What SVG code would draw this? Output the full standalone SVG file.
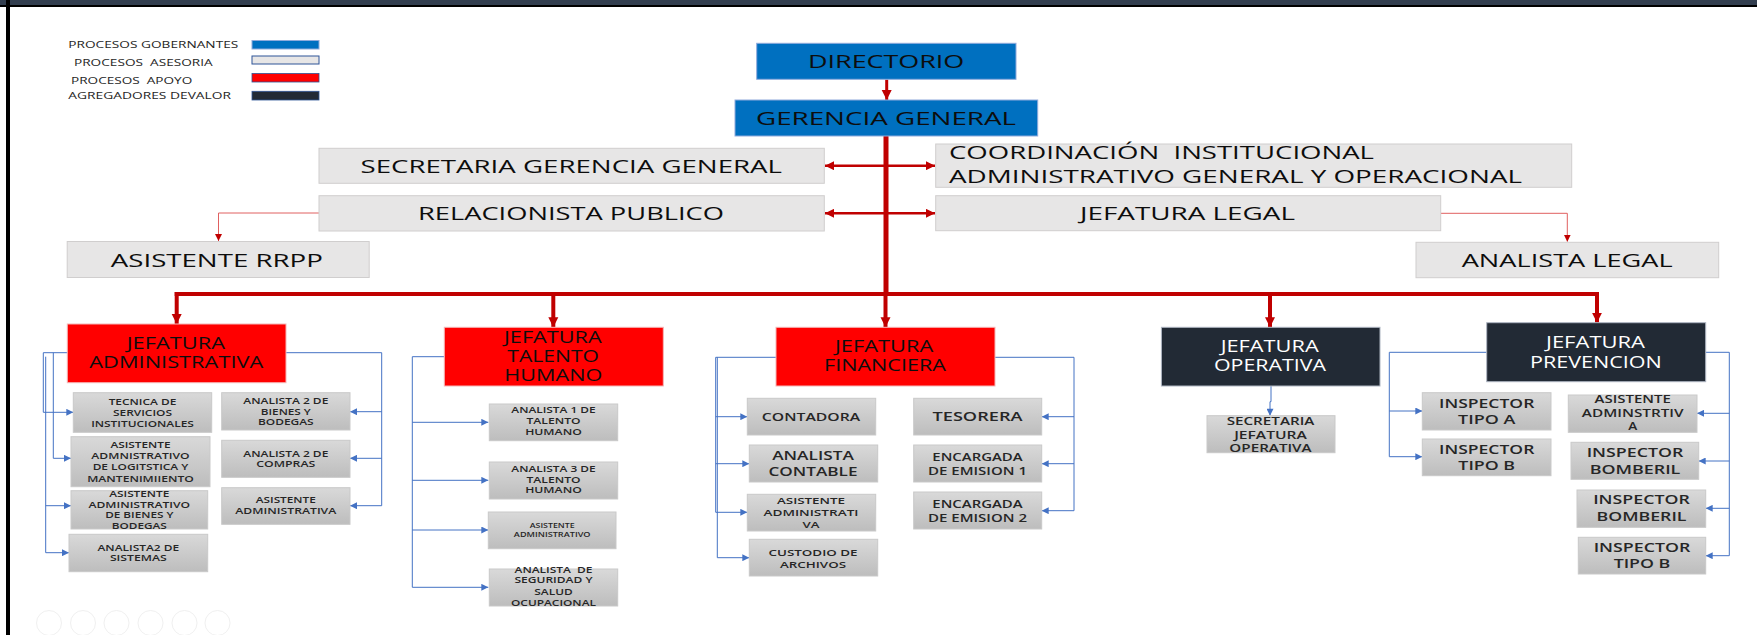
<svg xmlns="http://www.w3.org/2000/svg" width="1757" height="635" viewBox="0 0 1757 635">
<defs>
<style>
text{font-family:"Open Sans","Liberation Sans",sans-serif;}
.lg{font-size:8.5px;fill:#262626;white-space:pre;}
.big{font-size:19px;fill:#0d0d0d;}
.mid{font-size:18.5px;fill:#0d0d0d;white-space:pre;}
.hd{font-size:16px;fill:#0d0d0d;}
.hdw{font-size:16px;fill:#ffffff;}
.sm{font-size:9.6px;fill:#262626;text-anchor:middle;font-weight:600;}
.sm11{font-size:11.5px;fill:#262626;text-anchor:middle;font-weight:600;}
.sm13{font-size:13px;fill:#262626;text-anchor:middle;font-weight:600;}
.tiny{font-size:7.5px;fill:#262626;text-anchor:middle;font-weight:600;}
.blue{fill:#0070C0;stroke:#8FAADC;stroke-width:1;}
.gray{fill:#E7E6E6;stroke:#D0CECE;stroke-width:1;}
.red{fill:#FF0000;stroke:#F4B6B6;stroke-width:1;}
.dark{fill:#222A35;stroke:#AEB6C2;stroke-width:1;}
.sbox{fill:url(#gg);stroke:#C9C9C9;stroke-width:1;}
.rc{fill:none;stroke:#C00000;}
.bc{fill:none;stroke:#4472C4;stroke-width:1;}
</style>
<linearGradient id="gg" x1="0" y1="0" x2="0" y2="1">
<stop offset="0" stop-color="#D9D9D9"/>
<stop offset="1" stop-color="#BDBDBD"/>
</linearGradient>
<marker id="ba" viewBox="0 0 10 10" refX="10" refY="5" markerWidth="8" markerHeight="7" markerUnits="userSpaceOnUse" orient="auto">
<path d="M0,0 L10,5 L0,10 Z" fill="#4472C4"/>
</marker>
<marker id="ra" viewBox="0 0 10 10" refX="10" refY="5" markerWidth="10" markerHeight="13" markerUnits="userSpaceOnUse" orient="auto">
<path d="M0,0 L10,5 L0,10 Z" fill="#C00000"/>
</marker>
<marker id="ra2" viewBox="0 0 10 10" refX="10" refY="5" markerWidth="10" markerHeight="9" markerUnits="userSpaceOnUse" orient="auto-start-reverse">
<path d="M0,0 L10,5 L0,10 Z" fill="#C00000"/>
</marker>
<marker id="rs" viewBox="0 0 10 10" refX="10" refY="5" markerWidth="7" markerHeight="7" markerUnits="userSpaceOnUse" orient="auto">
<path d="M0,0 L10,5 L0,10 Z" fill="#C00000"/>
</marker>
</defs>

<rect x="0" y="0" width="1757" height="635" fill="#ffffff"/>
<rect x="0" y="0" width="1757" height="5.5" fill="#323E4F"/>
<rect x="0" y="5" width="1757" height="2" fill="#000000"/>
<rect x="6" y="0" width="4" height="635" fill="#000000"/>

<g id="faint-icons" fill="none" stroke="#F0F0F0" stroke-width="1">
<circle cx="49" cy="623" r="12.5"/>
<circle cx="83" cy="623" r="12.5"/>
<circle cx="116.5" cy="623" r="12.5"/>
<circle cx="150.5" cy="623" r="12.5"/>
<circle cx="184.5" cy="623" r="12.5"/>
<circle cx="217.5" cy="623" r="12.5"/>
</g>

<g id="legend">
<text class="lg" x="68.3" y="48" textLength="170" lengthAdjust="spacingAndGlyphs">PROCESOS GOBERNANTES</text>
<rect class="blue" x="252" y="40.5" width="67" height="8.5"/>
<text class="lg" x="74" y="66" textLength="138.7" lengthAdjust="spacingAndGlyphs">PROCESOS  ASESORIA</text>
<rect x="252" y="56" width="67" height="8" fill="#E7E6E6" stroke="#2F5597" stroke-width="1"/>
<text class="lg" x="71" y="83.7" textLength="121.3" lengthAdjust="spacingAndGlyphs">PROCESOS  APOYO</text>
<rect x="252" y="73.5" width="67" height="8.5" fill="#FF0000" stroke="#2F5597" stroke-width="0.8"/>
<text class="lg" x="68.3" y="99.3" textLength="162.7" lengthAdjust="spacingAndGlyphs">AGREGADORES DEVALOR</text>
<rect x="252" y="91.3" width="67" height="8.7" fill="#222A35" stroke="#2F5597" stroke-width="0.8"/>
</g>

<g id="connectors">
<path class="rc" stroke-width="3" d="M886.7,79.5 V100" marker-end="url(#ra)"/>
<path class="rc" stroke-width="5" d="M886,136 V296"/>
<path class="rc" stroke-width="4" d="M885.5,294 V327.3" marker-end="url(#ra)"/>
<path class="rc" stroke-width="2.5" d="M825,165.7 H935" marker-start="url(#ra2)" marker-end="url(#ra2)"/>
<path class="rc" stroke-width="2.5" d="M825,213.3 H935" marker-start="url(#ra2)" marker-end="url(#ra2)"/>
<path class="rc" stroke-width="4" d="M174.7,294 H1599"/>
<path class="rc" stroke-width="4" d="M176.7,292 V324" marker-end="url(#ra)"/>
<path class="rc" stroke-width="4" d="M553.3,292 V327.3" marker-end="url(#ra)"/>
<path class="rc" stroke-width="4" d="M1270,292 V327.3" marker-end="url(#ra)"/>
<path class="rc" stroke-width="4" d="M1597,292 V322.7" marker-end="url(#ra)"/>
<path fill="none" stroke="#E06060" stroke-width="1" d="M319,213 H218.5 V241" marker-end="url(#rs)"/>
<path fill="none" stroke="#E06060" stroke-width="1" d="M1441,213.3 H1567.3 V241.7" marker-end="url(#rs)"/>
<path class="bc" d="M95,352.7 H43.3 V412.3 H73.3" marker-end="url(#ba)"/>
<path class="bc" d="M53.3,352.7 V458.3 H71" marker-end="url(#ba)"/>
<path class="bc" d="M45.7,356.7 V552.7 H69" marker-end="url(#ba)"/>
<path class="bc" d="M45.7,505.7 H71" marker-end="url(#ba)"/>
<path class="bc" d="M286,352.7 H381.7 V505.7 H350" marker-end="url(#ba)"/>
<path class="bc" d="M381.7,411.7 H350" marker-end="url(#ba)"/>
<path class="bc" d="M381.7,458.3 H350" marker-end="url(#ba)"/>
<path class="bc" d="M444.3,356.7 H412.3 V587.3 H488.3" marker-end="url(#ba)"/>
<path class="bc" d="M412.3,422.3 H488.3" marker-end="url(#ba)"/>
<path class="bc" d="M412.3,480.3 H488.3" marker-end="url(#ba)"/>
<path class="bc" d="M412.3,530 H488.3" marker-end="url(#ba)"/>
<path class="bc" d="M776,357.3 H715.7 V512.3 H747.3" marker-end="url(#ba)"/>
<path class="bc" d="M717.3,357.3 V557.7 H749.3" marker-end="url(#ba)"/>
<path class="bc" d="M715.7,416.7 H747.3" marker-end="url(#ba)"/>
<path class="bc" d="M715.7,463.7 H749.3" marker-end="url(#ba)"/>
<path class="bc" d="M995,357.3 H1074 V510.7 H1041.7" marker-end="url(#ba)"/>
<path class="bc" d="M1074,416.7 H1041.7" marker-end="url(#ba)"/>
<path class="bc" d="M1074,463.7 H1041.7" marker-end="url(#ba)"/>
<path class="bc" d="M1271,386 V401.7 H1270 V415.7" marker-end="url(#ba)"/>
<path class="bc" d="M1486.7,352.3 H1389.3 V456.7 H1422.3" marker-end="url(#ba)"/>
<path class="bc" d="M1389.3,411 H1422.3" marker-end="url(#ba)"/>
<path class="bc" d="M1705.7,352.3 H1729.3 V555.7 H1705.7" marker-end="url(#ba)"/>
<path class="bc" d="M1729.3,413.3 H1697" marker-end="url(#ba)"/>
<path class="bc" d="M1729.3,461 H1698.7" marker-end="url(#ba)"/>
<path class="bc" d="M1729.3,508.3 H1705.7" marker-end="url(#ba)"/>
</g>

<g id="n-directorio">
<rect class="blue" x="756.7" y="43.3" width="259.3" height="36"/>
<text class="big" x="808" y="68.3" textLength="156.3" lengthAdjust="spacingAndGlyphs">DIRECTORIO</text>
</g>
<g id="n-gerencia">
<rect class="blue" x="735" y="100" width="302.7" height="36"/>
<text class="big" x="756" y="125" textLength="260" lengthAdjust="spacingAndGlyphs">GERENCIA GENERAL</text>
</g>
<g id="n-secretaria">
<rect class="gray" x="319" y="148.3" width="505.3" height="35"/>
<text class="mid" x="360.5" y="172.7" textLength="421.5" lengthAdjust="spacingAndGlyphs">SECRETARIA GERENCIA GENERAL</text>
</g>
<g id="n-coordinacion">
<rect class="gray" x="935.7" y="144" width="636" height="43.3"/>
<text class="mid" x="949" y="159.3" textLength="425" lengthAdjust="spacingAndGlyphs">COORDINACIÓN  INSTITUCIONAL</text>
<text class="mid" x="949" y="183.3" textLength="573" lengthAdjust="spacingAndGlyphs">ADMINISTRATIVO GENERAL Y OPERACIONAL</text>
</g>
<g id="n-relacionista">
<rect class="gray" x="319" y="195.7" width="505.3" height="35.3"/>
<text class="mid" x="418" y="220" textLength="306" lengthAdjust="spacingAndGlyphs">RELACIONISTA PUBLICO</text>
</g>
<g id="n-legal">
<rect class="gray" x="935.7" y="195.7" width="505" height="35"/>
<text class="mid" x="1080" y="220" textLength="215" lengthAdjust="spacingAndGlyphs">JEFATURA LEGAL</text>
</g>
<g id="n-asistente-rrpp">
<rect class="gray" x="67.2" y="241.5" width="302" height="36"/>
<text class="mid" x="110.8" y="266.8" textLength="212" lengthAdjust="spacingAndGlyphs">ASISTENTE RRPP</text>
</g>
<g id="n-analista-legal">
<rect class="gray" x="1416" y="242.3" width="302.7" height="35.4"/>
<text class="mid" x="1461.7" y="267.3" textLength="211" lengthAdjust="spacingAndGlyphs">ANALISTA LEGAL</text>
</g>

<g id="n-jef-admin">
<rect class="red" x="67.3" y="324" width="218.7" height="58.7"/>
<text class="hd" x="126.7" y="349" textLength="98.3" lengthAdjust="spacingAndGlyphs">JEFATURA</text>
<text class="hd" x="89.3" y="368.3" textLength="174" lengthAdjust="spacingAndGlyphs">ADMINISTRATIVA</text>
</g>
<g id="n-jef-talento">
<rect class="red" x="444.3" y="327.3" width="219" height="58.7"/>
<text class="hd" x="504" y="342.7" textLength="97.7" lengthAdjust="spacingAndGlyphs">JEFATURA</text>
<text class="hd" x="507.3" y="361.7" textLength="91.7" lengthAdjust="spacingAndGlyphs">TALENTO</text>
<text class="hd" x="504.3" y="380.7" textLength="98" lengthAdjust="spacingAndGlyphs">HUMANO</text>
</g>
<g id="n-jef-fin">
<rect class="red" x="776" y="327.3" width="219" height="58.7"/>
<text class="hd" x="835" y="351.7" textLength="98.3" lengthAdjust="spacingAndGlyphs">JEFATURA</text>
<text class="hd" x="824" y="371" textLength="122" lengthAdjust="spacingAndGlyphs">FINANCIERA</text>
</g>
<g id="n-jef-oper">
<rect class="dark" x="1161.4" y="327.3" width="218.6" height="58.7"/>
<text class="hdw" x="1220.7" y="352.3" textLength="98" lengthAdjust="spacingAndGlyphs">JEFATURA</text>
<text class="hdw" x="1214" y="371" textLength="112" lengthAdjust="spacingAndGlyphs">OPERATIVA</text>
</g>
<g id="n-jef-prev">
<rect class="dark" x="1486.7" y="322.7" width="219" height="59"/>
<text class="hdw" x="1546" y="348.3" textLength="99" lengthAdjust="spacingAndGlyphs">JEFATURA</text>
<text class="hdw" x="1530" y="367.7" textLength="131.7" lengthAdjust="spacingAndGlyphs">PREVENCION</text>
</g>

<g id="n-tecnica">
<rect class="sbox" x="73.3" y="392.7" width="138.4" height="39.6"/>
<text class="sm" x="142.5" y="405" textLength="67.7" lengthAdjust="spacingAndGlyphs">TECNICA DE</text>
<text class="sm" x="142.5" y="415.7" textLength="59" lengthAdjust="spacingAndGlyphs">SERVICIOS</text>
<text class="sm" x="142.5" y="426.7" textLength="102.7" lengthAdjust="spacingAndGlyphs">INSTITUCIONALES</text>
</g>
<g id="n-asis-logistica">
<rect class="sbox" x="71" y="436.7" width="139" height="50"/>
<text class="sm" x="140.5" y="448.3" textLength="60" lengthAdjust="spacingAndGlyphs">ASISTENTE</text>
<text class="sm" x="140.5" y="459" textLength="98.3" lengthAdjust="spacingAndGlyphs">ADMNISTRATIVO</text>
<text class="sm" x="140.5" y="470" textLength="95.7" lengthAdjust="spacingAndGlyphs">DE LOGITSTICA Y</text>
<text class="sm" x="140.5" y="481.5" textLength="106.7" lengthAdjust="spacingAndGlyphs">MANTENIMIIENTO</text>
</g>
<g id="n-asis-bienes">
<rect class="sbox" x="71" y="490.7" width="136.7" height="38.3"/>
<text class="sm" x="139.3" y="497" textLength="60" lengthAdjust="spacingAndGlyphs">ASISTENTE</text>
<text class="sm" x="139.3" y="507.5" textLength="101.7" lengthAdjust="spacingAndGlyphs">ADMINISTRATIVO</text>
<text class="sm" x="139.3" y="518.3" textLength="68.3" lengthAdjust="spacingAndGlyphs">DE BIENES Y</text>
<text class="sm" x="139.3" y="529.3" textLength="55" lengthAdjust="spacingAndGlyphs">BODEGAS</text>
</g>
<g id="n-analista-sistemas">
<rect class="sbox" x="69" y="534.3" width="138.7" height="37.4"/>
<text class="sm" x="138.3" y="550.7" textLength="81.7" lengthAdjust="spacingAndGlyphs">ANALISTA2 DE</text>
<text class="sm" x="138.3" y="561" textLength="56.7" lengthAdjust="spacingAndGlyphs">SISTEMAS</text>
</g>
<g id="n-analista-bienes">
<rect class="sbox" x="221.7" y="392.7" width="128.3" height="37.3"/>
<text class="sm" x="285.8" y="404" textLength="85" lengthAdjust="spacingAndGlyphs">ANALISTA 2 DE</text>
<text class="sm" x="285.8" y="414.7" textLength="50" lengthAdjust="spacingAndGlyphs">BIENES Y</text>
<text class="sm" x="285.8" y="425.3" textLength="55.7" lengthAdjust="spacingAndGlyphs">BODEGAS</text>
</g>
<g id="n-analista-compras">
<rect class="sbox" x="221.7" y="440.3" width="128.3" height="37"/>
<text class="sm" x="285.8" y="456.7" textLength="85" lengthAdjust="spacingAndGlyphs">ANALISTA 2 DE</text>
<text class="sm" x="285.8" y="467.3" textLength="59" lengthAdjust="spacingAndGlyphs">COMPRAS</text>
</g>
<g id="n-asis-administrativa">
<rect class="sbox" x="221.7" y="487.7" width="128.3" height="36.6"/>
<text class="sm" x="285.8" y="503.3" textLength="60" lengthAdjust="spacingAndGlyphs">ASISTENTE</text>
<text class="sm" x="285.8" y="514" textLength="101" lengthAdjust="spacingAndGlyphs">ADMINISTRATIVA</text>
</g>

<g id="n-analista1-th">
<rect class="sbox" x="489.3" y="404" width="128.4" height="36.7"/>
<text class="sm" x="553.5" y="413.3" textLength="84.3" lengthAdjust="spacingAndGlyphs">ANALISTA 1 DE</text>
<text class="sm" x="553.5" y="424" textLength="54" lengthAdjust="spacingAndGlyphs">TALENTO</text>
<text class="sm" x="553.5" y="435" textLength="56.7" lengthAdjust="spacingAndGlyphs">HUMANO</text>
</g>
<g id="n-analista3-th">
<rect class="sbox" x="489.3" y="462" width="128.4" height="37"/>
<text class="sm" x="553.5" y="472" textLength="84.3" lengthAdjust="spacingAndGlyphs">ANALISTA 3 DE</text>
<text class="sm" x="553.5" y="482.7" textLength="54" lengthAdjust="spacingAndGlyphs">TALENTO</text>
<text class="sm" x="553.5" y="493.3" textLength="56.7" lengthAdjust="spacingAndGlyphs">HUMANO</text>
</g>
<g id="n-asis-th">
<rect class="sbox" x="488.3" y="512" width="127.7" height="36.7"/>
<text class="tiny" x="552.2" y="528.3" textLength="45" lengthAdjust="spacingAndGlyphs">ASISTENTE</text>
<text class="tiny" x="552.2" y="537" textLength="76.7" lengthAdjust="spacingAndGlyphs">ADMINISTRATIVO</text>
</g>
<g id="n-seguridad">
<rect class="sbox" x="489.3" y="569" width="128.4" height="37"/>
<text class="sm" x="553.5" y="572.7" textLength="78" lengthAdjust="spacingAndGlyphs" style="white-space:pre">ANALISTA  DE</text>
<text class="sm" x="553.5" y="583.3" textLength="78" lengthAdjust="spacingAndGlyphs">SEGURIDAD Y</text>
<text class="sm" x="553.5" y="595" textLength="38.3" lengthAdjust="spacingAndGlyphs">SALUD</text>
<text class="sm" x="553.5" y="606" textLength="85" lengthAdjust="spacingAndGlyphs">OCUPACIONAL</text>
</g>

<g id="n-contadora">
<rect class="sbox" x="747.3" y="398.3" width="128.4" height="36.7"/>
<text class="sm11" x="811" y="420.7" textLength="98.3" lengthAdjust="spacingAndGlyphs">CONTADORA</text>
</g>
<g id="n-analista-contable">
<rect class="sbox" x="749.3" y="445" width="128.4" height="37"/>
<text class="sm13" x="813" y="460" textLength="81.7" lengthAdjust="spacingAndGlyphs">ANALISTA</text>
<text class="sm13" x="813" y="476" textLength="89" lengthAdjust="spacingAndGlyphs">CONTABLE</text>
</g>
<g id="n-asis-fin">
<rect class="sbox" x="747.3" y="494.3" width="128.4" height="36.7"/>
<text class="sm" x="811" y="504" textLength="68" lengthAdjust="spacingAndGlyphs">ASISTENTE</text>
<text class="sm" x="811" y="516" textLength="95" lengthAdjust="spacingAndGlyphs">ADMINISTRATI</text>
<text class="sm" x="811" y="528.3" textLength="17" lengthAdjust="spacingAndGlyphs">VA</text>
</g>
<g id="n-custodio">
<rect class="sbox" x="749.3" y="539.3" width="128.4" height="36.7"/>
<text class="sm" x="813" y="555.7" textLength="89" lengthAdjust="spacingAndGlyphs">CUSTODIO DE</text>
<text class="sm" x="813" y="567.7" textLength="66" lengthAdjust="spacingAndGlyphs">ARCHIVOS</text>
</g>
<g id="n-tesorera">
<rect class="sbox" x="913.7" y="398.3" width="128" height="36.7"/>
<text class="sm13" x="977.5" y="420.7" textLength="90" lengthAdjust="spacingAndGlyphs">TESORERA</text>
</g>
<g id="n-emision1">
<rect class="sbox" x="913.7" y="445" width="128" height="37"/>
<text class="sm11" x="977.5" y="461" textLength="90.3" lengthAdjust="spacingAndGlyphs">ENCARGADA</text>
<text class="sm11" x="977.5" y="474.7" textLength="99" lengthAdjust="spacingAndGlyphs">DE EMISION 1</text>
</g>
<g id="n-emision2">
<rect class="sbox" x="913.7" y="492" width="128" height="37"/>
<text class="sm11" x="977.5" y="508" textLength="90.3" lengthAdjust="spacingAndGlyphs">ENCARGADA</text>
<text class="sm11" x="977.5" y="521.7" textLength="99" lengthAdjust="spacingAndGlyphs">DE EMISION 2</text>
</g>

<g id="n-sec-oper">
<rect class="sbox" x="1207" y="415.7" width="128" height="37"/>
<text class="sm11" x="1270.5" y="425" textLength="87.7" lengthAdjust="spacingAndGlyphs">SECRETARIA</text>
<text class="sm11" x="1270.5" y="438.7" textLength="72.7" lengthAdjust="spacingAndGlyphs">JEFATURA</text>
<text class="sm11" x="1270.5" y="451.7" textLength="82.3" lengthAdjust="spacingAndGlyphs">OPERATIVA</text>
</g>

<g id="n-insp-a">
<rect class="sbox" x="1422.3" y="392.7" width="128.7" height="37.3"/>
<text class="sm13" x="1486.7" y="407.7" textLength="95.3" lengthAdjust="spacingAndGlyphs">INSPECTOR</text>
<text class="sm13" x="1486.7" y="423.7" textLength="57.3" lengthAdjust="spacingAndGlyphs">TIPO A</text>
</g>
<g id="n-insp-b">
<rect class="sbox" x="1422.3" y="439" width="128.7" height="36.7"/>
<text class="sm13" x="1486.7" y="454" textLength="95.3" lengthAdjust="spacingAndGlyphs">INSPECTOR</text>
<text class="sm13" x="1486.7" y="470" textLength="56.7" lengthAdjust="spacingAndGlyphs">TIPO B</text>
</g>
<g id="n-asis-prev">
<rect class="sbox" x="1568.3" y="395" width="128.7" height="37.3"/>
<text class="sm11" x="1632.7" y="403.3" textLength="76.3" lengthAdjust="spacingAndGlyphs">ASISTENTE</text>
<text class="sm11" x="1632.7" y="417.3" textLength="101.7" lengthAdjust="spacingAndGlyphs">ADMINSTRTIV</text>
<text class="sm11" x="1632.7" y="430.3" textLength="9" lengthAdjust="spacingAndGlyphs">A</text>
</g>
<g id="n-bomberil1">
<rect class="sbox" x="1571" y="442.3" width="127.7" height="37"/>
<text class="sm13" x="1635" y="457.3" textLength="96.7" lengthAdjust="spacingAndGlyphs">INSPECTOR</text>
<text class="sm13" x="1635" y="474" textLength="90.7" lengthAdjust="spacingAndGlyphs">BOMBERIL</text>
</g>
<g id="n-bomberil2">
<rect class="sbox" x="1577" y="490" width="128.7" height="37.3"/>
<text class="sm13" x="1641.5" y="504.3" textLength="96.7" lengthAdjust="spacingAndGlyphs">INSPECTOR</text>
<text class="sm13" x="1641.5" y="521" textLength="90" lengthAdjust="spacingAndGlyphs">BOMBERIL</text>
</g>
<g id="n-insp-b2">
<rect class="sbox" x="1578.3" y="537.3" width="127.4" height="36.7"/>
<text class="sm13" x="1642" y="551.7" textLength="96.7" lengthAdjust="spacingAndGlyphs">INSPECTOR</text>
<text class="sm13" x="1642" y="568.3" textLength="56.7" lengthAdjust="spacingAndGlyphs">TIPO B</text>
</g>
</svg>
